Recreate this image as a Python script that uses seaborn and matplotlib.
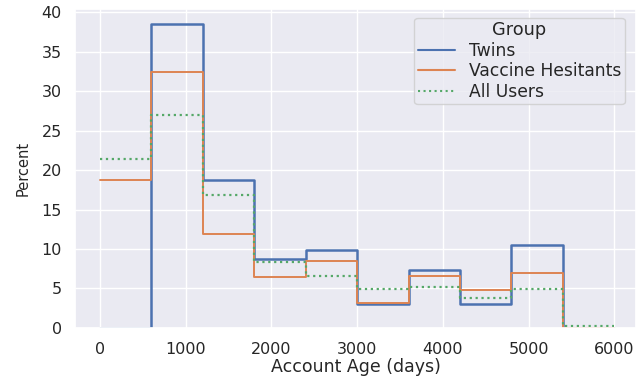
import numpy as np
import pandas as pd
import matplotlib
matplotlib.use("Agg")
import matplotlib.pyplot as plt
import seaborn as sns

# bin edges (days) and percent per bin
bin_edges = [0, 600, 1200, 1800, 2400, 3000, 3600, 4200, 4800, 5400, 6000]
twins = [0.0, 38.5, 18.7, 8.7, 9.9, 3.0, 7.3, 3.0, 10.5, 0.0]
vaccine_hesitants = [18.7, 32.4, 11.9, 6.4, 8.5, 3.1, 6.6, 4.8, 6.9, 0.0]
all_users = [21.4, 27.0, 16.9, 8.4, 6.6, 4.9, 5.2, 3.8, 4.9, 0.3]

groups = ["Twins", "Vaccine Hesitants", "All Users"]
centers = [(a + b) / 2 for a, b in zip(bin_edges[:-1], bin_edges[1:])]

df = pd.DataFrame({
    "age": centers * 3,
    "weight": twins + vaccine_hesitants + all_users,
    "Group": [g for g in groups for _ in centers],
})

sns.set_theme(style="darkgrid")
fig = plt.figure(figsize=(6.36, 3.8), dpi=100)
ax = fig.add_axes([0.118, 0.137, 0.882, 0.839])

palette = sns.color_palette("deep")
styles = {"Twins": ("-", 1.8), "Vaccine Hesitants": ("-", 1.4), "All Users": (":", 1.6)}
for i, g in enumerate(groups):
    sub = df[df["Group"] == g]
    sns.histplot(data=sub, x="age", weights="weight", bins=bin_edges,
                 stat="count", element="step", fill=False, color=palette[i],
                 linestyle=styles[g][0], linewidth=styles[g][1], label=g, ax=ax)

ax.set_xlim(-292, 6254)
ax.set_ylim(0, 40.4)
ax.set_xticks([0, 1000, 2000, 3000, 4000, 5000, 6000])
ax.set_yticks([0, 5, 10, 15, 20, 25, 30, 35, 40])
ax.tick_params(labelsize=11.5)
ax.tick_params(axis="x", pad=4)
ax.set_xlabel("Account Age (days)", fontsize=12.5, labelpad=1)
ax.set_ylabel("Percent", fontsize=10.5, labelpad=8)

handles = [plt.Line2D([], [], color=palette[i], linestyle=styles[g][0], linewidth=1.5)
           for i, g in enumerate(groups)]
ax.legend(handles, groups, title="Group", loc="upper right", fontsize=12.3,
          title_fontsize=12.8, labelspacing=0.15, borderpad=0.2,
          handlelength=2.2, bbox_to_anchor=(0.995, 1.0))

fig.savefig("out.png", dpi=100)
